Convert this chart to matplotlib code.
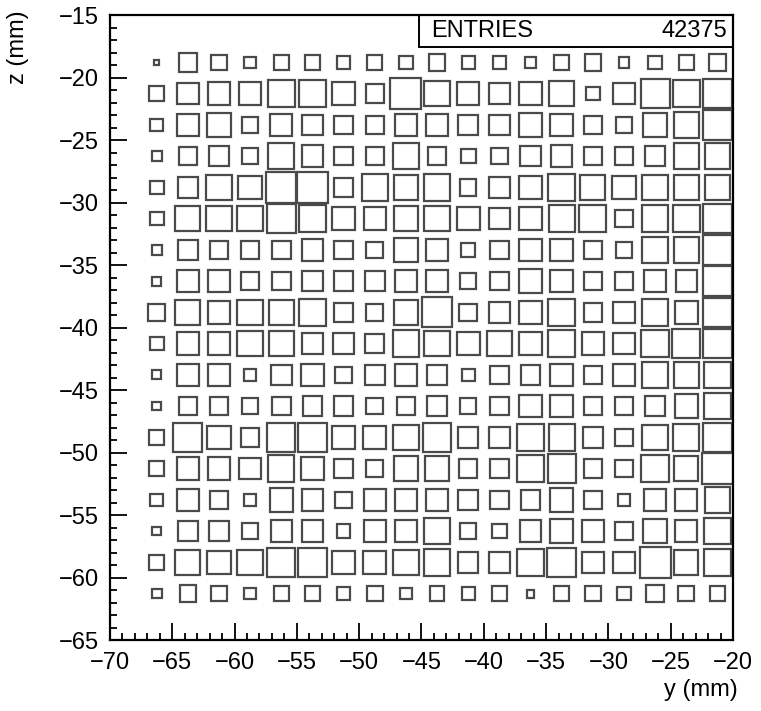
import numpy as np
import matplotlib
matplotlib.use("Agg")
import matplotlib.pyplot as plt
from matplotlib.patches import Rectangle
from matplotlib.ticker import MultipleLocator

plt.rcParams['font.family'] = ['Liberation Sans', 'DejaVu Sans']

# bin centres (mm)
y_centres = [-66.25, -63.75, -61.25, -58.75, -56.25, -53.75, -51.25, -48.75, -46.25, -43.75,
             -41.25, -38.75, -36.25, -33.75, -31.25, -28.75, -26.25, -23.75, -21.25]
z_centres = [-18.75, -21.25, -23.75, -26.25, -28.75, -31.25, -33.75, -36.25, -38.75,
             -41.25, -43.75, -46.25, -48.75, -51.25, -53.75, -56.25, -58.75, -61.25]
bin_width = 2.5

# cell contents, one row per z bin (top to bottom), one column per y bin (left to right)
contents = [
    [5, 19, 16, 12, 16, 16, 13, 15, 14, 17, 13, 13, 12, 15, 17, 11, 14, 15, 17],
    [15, 22, 23, 23, 28, 28, 23, 19, 32, 26, 23, 22, 23, 25, 14, 22, 30, 28, 30],
    [13, 23, 24, 17, 23, 21, 19, 19, 23, 22, 21, 21, 24, 23, 19, 17, 24, 26, 30],
    [10, 18, 20, 17, 27, 22, 19, 19, 26, 19, 15, 17, 21, 22, 19, 18, 21, 26, 26],
    [14, 21, 26, 24, 31, 31, 19, 27, 25, 27, 17, 22, 23, 28, 26, 24, 26, 26, 26],
    [14, 26, 26, 26, 30, 27, 23, 23, 25, 26, 24, 22, 23, 27, 28, 18, 27, 28, 30],
    [10, 20, 19, 18, 19, 22, 19, 17, 25, 22, 14, 19, 23, 23, 19, 17, 27, 26, 30],
    [9, 22, 23, 19, 19, 21, 20, 21, 22, 22, 16, 19, 24, 23, 19, 18, 22, 22, 30],
    [17, 26, 23, 26, 26, 28, 19, 17, 25, 31, 18, 22, 24, 28, 19, 22, 27, 24, 30],
    [14, 23, 23, 26, 26, 21, 22, 20, 27, 26, 24, 25, 23, 28, 23, 22, 28, 29, 30],
    [9, 23, 23, 13, 21, 23, 17, 21, 22, 20, 13, 19, 20, 23, 19, 22, 27, 26, 27],
    [9, 19, 19, 17, 19, 20, 20, 17, 18, 20, 17, 19, 23, 23, 19, 18, 20, 24, 27],
    [15, 30, 24, 19, 29, 29, 23, 24, 26, 29, 21, 22, 27, 27, 21, 18, 26, 27, 30],
    [15, 23, 23, 22, 27, 23, 19, 17, 25, 25, 19, 19, 27, 29, 19, 18, 28, 25, 31],
    [13, 22, 18, 13, 24, 22, 17, 23, 22, 23, 21, 19, 20, 24, 19, 13, 22, 23, 26],
    [9, 20, 21, 17, 22, 22, 14, 23, 22, 26, 16, 15, 22, 24, 22, 19, 25, 23, 27],
    [16, 26, 24, 26, 29, 30, 23, 24, 26, 27, 21, 22, 27, 30, 22, 22, 32, 25, 28],
    [10, 17, 16, 12, 16, 15, 13, 16, 12, 15, 13, 15, 8, 15, 16, 14, 18, 16, 16],
]
entries = 42375

fig = plt.figure(figsize=(7.61, 7.11), dpi=100)
ax = fig.add_axes([0.1445, 0.0992, 0.8187, 0.879])

c = np.array(contents, dtype=float)
cmax = c.max()
for i, zc in enumerate(z_centres):
    for j, yc in enumerate(y_centres):
        side = bin_width * c[i, j] / cmax
        ax.add_patch(Rectangle((yc - side / 2, zc - side / 2), side, side,
                               fill=False, edgecolor='#4a4a4a', linewidth=1.6))

ax.set_xlim(-70, -20)
ax.set_ylim(-65, -15)
for s in ax.spines.values():
    s.set_linewidth(1.6)
    s.set_color('black')

ax.xaxis.set_major_locator(MultipleLocator(5))
ax.xaxis.set_minor_locator(MultipleLocator(1))
ax.yaxis.set_major_locator(MultipleLocator(5))
ax.yaxis.set_minor_locator(MultipleLocator(1))
ax.tick_params(which='both', direction='in', top=False, right=False,
               labelsize=17, width=1.3, colors='black')
ax.tick_params(which='major', length=12, pad=8)
ax.tick_params(which='minor', length=5)

# statistics box
ax.add_patch(Rectangle((0.496, 0.9496), 0.504, 0.0504, transform=ax.transAxes,
                       fill=False, edgecolor='black', linewidth=1.4, clip_on=False))
ax.text(0.515, 0.975, 'ENTRIES', transform=ax.transAxes, fontsize=17,
        ha='left', va='center')
ax.text(0.99, 0.975, str(entries), transform=ax.transAxes, fontsize=17,
        ha='right', va='center')

fig.text(738 / 761, 1 - 690 / 711, 'y (mm)', fontsize=17, ha='right', va='center')
fig.text(18 / 761, 1 - 10 / 711, 'z (mm)', fontsize=17, ha='center', va='top',
         rotation=90)

fig.savefig('out.png', dpi=100)
